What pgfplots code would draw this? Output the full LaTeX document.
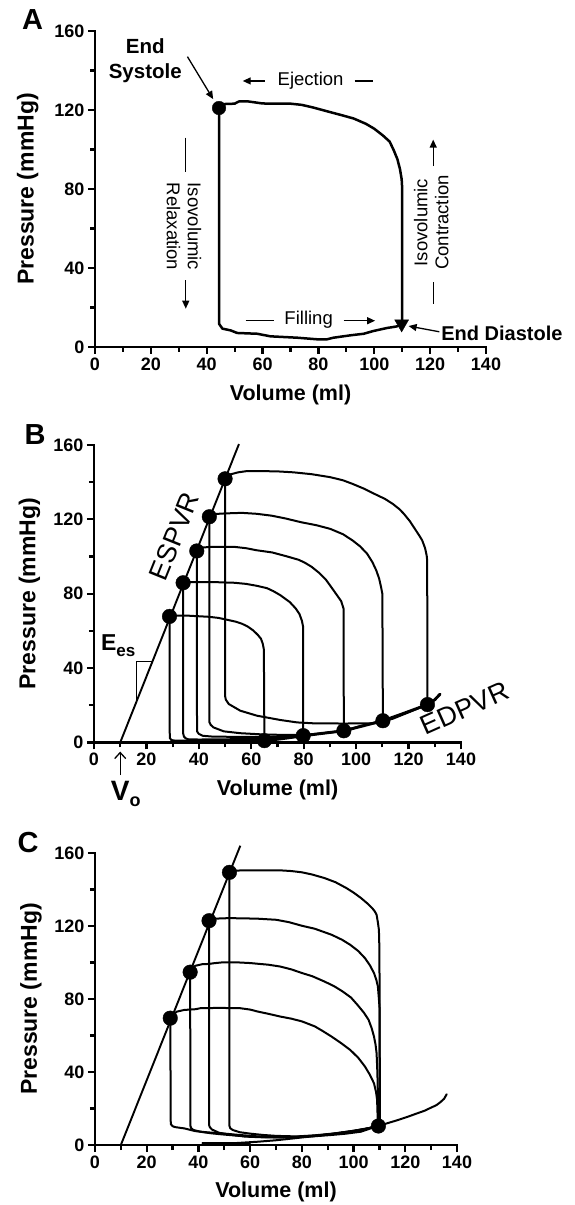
\documentclass[border=0pt]{standalone}
\usepackage{pgfplots}
\pgfplotsset{compat=1.18}
\usepackage{fontspec}
\setmainfont{Liberation Sans}
\usetikzlibrary{arrows.meta}
\newcommand{\fs}[2]{\fontsize{#1pt}{#2pt}\selectfont}
\pgfplotsset{
  pv/.style={
    scale only axis, clip=false,
    xmin=0, xmax=140, ymin=0, ymax=160,
    axis lines=left,
    axis line style={-, line width=2.6pt, line cap=rect},
    xtick={0,20,...,140}, ytick={0,40,...,160},
    minor xtick={10,30,...,130}, minor ytick={20,60,100,140},
    tick align=outside,
    major tick length=7pt, minor tick length=5pt,
    tick style={line width=2.2pt, black},
    xticklabel style={font=\fs{18}{18}\bfseries},
    yticklabel style={font=\fs{18}{18}\bfseries},
    /pgf/number format/assume math mode=true,
    xlabel={Volume (ml)}, ylabel={Pressure (mmHg)},
    xlabel style={font=\fs{21.5}{22}\bfseries, anchor=center},
    ylabel style={font=\fs{23}{23}\bfseries, anchor=center},
  },
  lp/.style={black, line width=2pt, line join=round, line cap=round, mark=none},
  dots/.style={black, only marks, mark=*, mark size=7.3pt},
}
\tikzset{ar/.style={line width=1.3pt, -{Triangle[length=8pt,width=7pt]}}}
\begin{document}
\begin{tikzpicture}
\useasboundingbox (0,0) rectangle (575pt,1205pt);
\node[font=\fs{29}{29}\bfseries] at (32.5pt,1185pt) {A};
\node[font=\fs{29}{29}\bfseries] at (35pt,770pt) {B};
\node[font=\fs{29}{29}\bfseries] at (28pt,362pt) {C};
% ---------------- Panel A
\begin{axis}[pv, at={(95pt,858pt)}, anchor=south west, width=391pt, height=316pt,
  xlabel style={at={(axis description cs:0.5,-0.152)}},
  ylabel style={at={(axis description cs:-0.172,0.5)}}]
\addplot[lp, line width=2.5pt] coordinates {
 (44.4,121) (44.6,122.5) (46,123) (50,123.2) (51.5,124.3) (55,124.3) (60,123.3) (65,123.2)
 (70,123.2) (74,122.6) (78,121.3) (84,119) (88,117.5) (92.6,115.7) (97,113) (100,110.5)
 (103,107.2) (105.5,104) (107,99.5) (108.3,95) (109.2,90) (109.8,85) (110,80) (110,11.5)
 (108,10.4) (104.5,9.6) (99.7,8.1) (96.2,6.7) (91.4,5.9) (85.4,4.7) (83.1,3.9) (79.5,3.9)
 (72.4,4.7) (62.8,5.4) (58.1,6.7) (50.9,7.1) (48.6,8.4) (45.6,9.3) (44.4,11.8) (44.4,121)
};
\addplot[dots, mark size=6.8pt] coordinates {(44.4,121)};
\addplot[black, only marks, mark=triangle*, mark size=8pt, mark options={rotate=180}] coordinates {(109.8,11.7)};
\node[font=\fs{20.5}{25}\bfseries, align=center] at (axis cs:18,145) {End\\Systole};
\draw[ar] (axis cs:33.1,147) -- (axis cs:42.3,125.5);
\node[font=\fs{18.5}{21}] at (axis cs:77.2,134.7) {Ejection};
\draw[ar] (axis cs:60.8,134.7) -- (axis cs:52.9,134.7);
\draw[line width=1.3pt] (axis cs:93,134.7) -- (axis cs:99.6,134.7);
\node[font=\fs{18.5}{21}, align=center, rotate=-90] at (axis cs:31.9,61) {Isovolumic\\Relaxation};
\draw[line width=1.3pt] (axis cs:32.5,106) -- (axis cs:32.5,88.5);
\draw[ar] (axis cs:32.5,33.7) -- (axis cs:32.5,19.4);
\node[font=\fs{18.5}{21}, align=center, rotate=90] at (axis cs:120.4,63) {Isovolumic\\Contraction};
\draw[line width=1.3pt] (axis cs:121.1,32.8) -- (axis cs:121.1,21.9);
\draw[ar] (axis cs:121.1,91.6) -- (axis cs:121.1,105);
\node[font=\fs{18.5}{21}] at (axis cs:76.5,13.8) {Filling};
\draw[line width=1.3pt] (axis cs:53.9,13.3) -- (axis cs:64,13.3);
\draw[ar] (axis cs:89,13.3) -- (axis cs:100.3,13.3);
\node[font=\fs{20}{21}\bfseries, anchor=west, inner sep=1pt] at (axis cs:123.6,6.9) {End Diastole};
\draw[ar] (axis cs:123.3,7.7) -- (axis cs:112.3,10.6);
\end{axis}
% ---------------- Panel B
\begin{axis}[pv, at={(94pt,462.5pt)}, anchor=south west, width=367pt, height=297.5pt,
  xlabel style={at={(axis description cs:0.5,-0.160)}},
  ylabel style={at={(axis description cs:-0.176,0.5)}}]
\addplot[black, line width=1.9pt] coordinates {(10,0) (55.3,160.5)};
\addplot[lp] coordinates {
 (28.8,67.8) (30,68.2) (36,68.2) (43.8,67.6) (47.5,67) (50.8,66) (54,65) (56.4,63.9) (58.7,62.3)
 (60.7,60.3) (62.4,58) (63.7,55.8) (64.4,53) (64.8,50) (65,1.2) (60,1.0) (50,0.9) (40,0.9)
 (31,1.0) (29.5,1.3) (28.9,2.5) (28.8,67.8)};
\addplot[lp] coordinates {
 (34,85.9) (35.5,86.3) (45,86.3) (53.6,85.9) (58,85.3) (62,84.3) (66,83) (68.4,81.4) (71,79.3)
 (74.7,75.5) (77,72) (78.4,69) (79.3,65.5) (79.8,62) (79.8,3.7) (75,3.0) (70,2.4) (62,2.0)
 (50,1.7) (40,1.6) (36,1.7) (35,2.2) (34.3,3.2) (34,5) (34,85.9)};
\addplot[lp] coordinates {
 (39.2,103) (40.5,104.8) (45,105.2) (53.6,105.2) (58,104.5) (62,103.4) (68,102.2) (73.3,100.2)
 (78,98.3) (80.3,96.8) (83,94.5) (85.9,91.2) (88.5,87.5) (90.8,83) (92.8,79) (94.3,76) (95.2,72)
 (95.3,6.3) (87,4.9) (79.8,3.6) (72,3.2) (65,3.0) (55,3.0) (45,3.2) (41.5,3.6) (40,4.6)
 (39.3,6) (39.2,103)};
\addplot[lp] coordinates {
 (44,121.4) (45,122.8) (50,123.2) (56.4,123.5) (62,123) (67.7,122) (73,120.5) (78.9,118.5)
 (85,116.8) (90.1,114.9) (95,112) (98.6,108.7) (101.5,105.5) (104.2,101.5) (106.2,97)
 (107.7,92.5) (108.8,88) (109.5,83.6) (110,80) (110.2,11.7) (102,9.0) (95.3,6.3) (87,4.9)
 (79.8,4.1) (72,4.1) (64.8,4.3) (55.8,5.0) (49.5,6.0) (45.6,8.1) (44.5,9.5) (44,11) (44,121.4)};
\addplot[lp] coordinates {
 (50,141.8) (51.5,144) (55,145.3) (58,145.9) (62,146) (70,145.8) (76.1,145.3) (83,144.3)
 (90.1,142.7) (95,141) (98.6,139.1) (103,136.5) (107,133.7) (111,131) (114,128.3) (116.5,125.5)
 (118.2,123) (120.5,119) (122.4,114.9) (124,111.5) (125.2,108.7) (126.3,104.5) (126.9,100.6)
 (127.1,98) (127.2,20.4) (120,16.2) (114,12.8) (109.5,11.2) (106.8,10.3) (95,10.2) (83.9,10.3)
 (77.5,10.8) (71.1,12.1) (62.2,14.4) (55.8,17.1) (51.4,20.7) (50.3,23) (50,25) (50,141.8)};
\addplot[lp, line width=2.9pt] coordinates {
 (63,0.6) (65,0.9) (72,2.1) (79.8,3.6) (87,4.9) (95.3,6.3) (102,8.7) (110.2,11.7) (118,15.6)
 (127.2,20.4) (130,23) (132,26)};
\addplot[dots] coordinates {(28.8,67.8) (34,85.9) (39.2,103) (44,121.4) (50,141.8)
 (65,1.0) (79.8,3.7) (95.3,6.3) (110.2,11.7) (127.2,20.4)};
\draw[line width=1pt] (axis cs:22.3,43.7) -- (axis cs:16.1,43.7) -- (axis cs:16.1,21.6);
\node[font=\fs{27}{27}, rotate=68] at (axis cs:30.7,111) {ESPVR};
\node[font=\fs{27}{27}, rotate=24, inner sep=0pt] at (axis cs:141.4,18.3) {EDPVR};
\node[font=\fs{23}{23}\bfseries, anchor=base west, inner sep=0pt] at (axis cs:2.6,49.6)
  {E\raisebox{-6pt}{\fs{17}{17}\bfseries es}};
\draw[line width=1.3pt, -{Straight Barb[length=6pt,width=11pt]}] (axis cs:10,-17.5) -- (axis cs:10,-4.9);
\node[font=\fs{28}{28}\bfseries, anchor=base, inner sep=0pt] at (axis cs:10,-31)
  {V\rlap{\raisebox{-6pt}{\fs{18}{18}\bfseries o}}};
\end{axis}
% ---------------- Panel C
\begin{axis}[pv, at={(95pt,60pt)}, anchor=south west, width=362pt, height=292pt,
  xlabel style={at={(axis description cs:0.5,-0.160)}},
  ylabel style={at={(axis description cs:-0.177,0.5)}}]
\addplot[black, line width=1.9pt] coordinates {(10,0) (56.2,164)};
\addplot[lp] coordinates {
 (29.1,69.5) (30.2,71.5) (31.7,73.1) (34.5,74) (38.8,74.4) (40.9,75) (48,75.1) (55.9,75) (60,74.2)
 (63,73.1) (67,71.9) (71.6,70.4) (76,69.2) (80.1,67.7) (85,65) (88,62.5) (91.5,59.4) (95,56)
 (98.7,52.1) (101.8,47.8) (104.4,43) (106.3,38.5) (107.9,33.8) (108.7,29) (109.1,24.7) (109.4,11)
 (107,9.3) (102.9,7.3) (97,6.2) (91.5,5.5) (85,4.8) (77.3,4.3) (70,4.4) (63,4.7) (55.9,5.5)
 (48.8,6.4) (43,7) (38.8,7.6) (34.5,9.1) (31,9.8) (30,10.3) (29.3,11.5) (29.1,69.5)};
\addplot[lp] coordinates {
 (36.8,94.7) (37.8,97) (38.8,98.2) (41.6,99.1) (44,99.2) (46,99.6) (48.8,100) (55.9,100) (60,99.7)
 (63,99.3) (67,98.8) (71.6,97.8) (76,96.2) (80.1,94.2) (84,92.5) (88.7,89.6) (92.5,87) (95.8,84.1)
 (99,80.8) (101.5,76.8) (104,72.5) (105.8,68.6) (107,64) (107.9,59.4) (108.5,55) (108.9,50.3)
 (109.2,40) (109.4,28.3) (109.6,10.4) (106,9.2) (100,7.5) (92,6.0) (85,5.0) (77,4.3) (70,4.2)
 (63,4.5) (56,5.0) (50,5.7) (45,6.4) (41,7.2) (38.1,8.2) (37.2,9.2) (36.9,10.5) (36.8,94.7)};
\addplot[lp] coordinates {
 (44.1,122.9) (45,123.8) (45.9,124) (51.6,124.3) (57,124.2) (63,124) (70.1,123.4) (75,122.1)
 (80.1,120.1) (85,118.5) (91.5,115.2) (95.5,112.5) (98.7,109.7) (101.8,106.3) (104.4,102.4)
 (106.3,98.5) (107.9,94.2) (108.8,90.5) (109.4,86.9) (109.8,80) (110.1,74) (110.1,11.5)
 (107,9.6) (102,8.0) (95,6.5) (88,5.5) (80,4.6) (72,4.2) (65,4.2) (58,4.6) (51.6,5.8) (48,6.7)
 (45.2,8.5) (44.4,9.8) (44.1,11) (44.1,122.9)};
\addplot[lp] coordinates {
 (52,149.4) (53.3,150.3) (58,150.5) (63,150.5) (71.6,150.5) (76,150.1) (80.1,149.4) (84,148.2)
 (88.7,146.3) (93,144) (97.2,140.8) (100,138.3) (102.9,135.3) (105.3,132.4) (107.2,129.8)
 (108.2,128) (108.9,126.2) (109.4,122) (109.8,117.9) (110,107) (110.2,11.2) (106,9.3) (100,7.8)
 (93,6.4) (85,5.3) (78,4.7) (70.1,5.0) (65,5.5) (60.2,6.2) (56,7.0) (53.3,8.2) (52.3,9.2)
 (52,10.5) (52,149.4)};
\addplot[lp] coordinates {(41.6,1.3) (60,1.3)};
\addplot[lp] coordinates {
 (41.6,1.0) (48.8,0.9) (55,1.1) (63,1.8) (70,2.6) (77.3,3.7) (85,4.9) (91.5,6.1) (100,7.8)
 (105.8,9.1) (109.6,10.4) (113,11.9) (117.2,13.7) (121,15.5) (124.3,17.2) (127.5,18.8)
 (130,20.5) (132,21.8) (133.6,23.5) (135,25.3) (136,27.8)};
\addplot[dots] coordinates {(29.1,69.5) (36.8,94.7) (44.1,122.9) (52,149.4) (109.6,10.4)};
\end{axis}
\end{tikzpicture}
\end{document}
